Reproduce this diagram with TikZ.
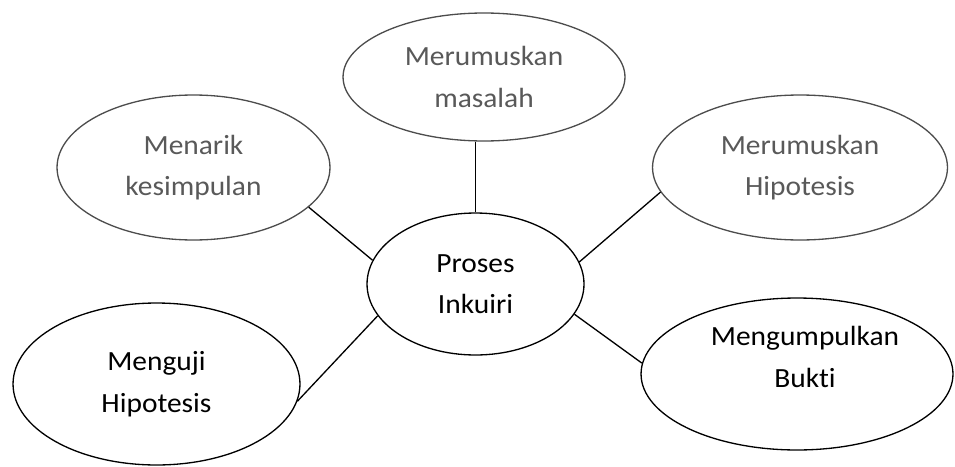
\documentclass[tikz,border=0pt]{standalone}
\usepackage{fontspec}
\setmainfont{Carlito}[Ligatures=NoCommon, FakeStretch=1.06]
\usetikzlibrary{shapes.geometric}

\begin{document}
\begin{tikzpicture}[x=0.02cm, y=-0.02cm,
  bubble/.style={ellipse, draw, line width=0.75pt, inner sep=0pt, align=center,
    font=\fontsize{15.8}{23.6}\selectfont},
  faded/.style={draw=black!70, text=black!65},
  link/.style={line width=0.75pt}]
\useasboundingbox (0,0) rectangle (955,466);

% upper row
\node [bubble, faded, minimum width=5.64cm, minimum height=2.56cm] (masalah) at (484,77) {Merumuskan\\masalah};
\node [bubble, faded, minimum width=5.46cm, minimum height=2.9cm] (kesimpulan) at (193.5,167.5) {Menarik\\kesimpulan};
\node [bubble, faded, minimum width=5.9cm, minimum height=2.9cm] (hipotesis) at (800,167.5) {Merumuskan\\Hipotesis};

% centre
\node [bubble, minimum width=4.34cm, minimum height=2.84cm] (proses) at (475.5,284) {Proses\\Inkuiri};

% lower row
\node [bubble, minimum width=5.74cm, minimum height=3.24cm] (menguji) at (156.5,384) {Menguji\\Hipotesis};
\node [bubble, minimum width=6.24cm, minimum height=3.04cm] (bukti) at (797,374) {};
\node [align=center, font=\fontsize{15.8}{23.6}\selectfont] (buktitext) at (805,357) {Mengumpulkan\\Bukti};

%\draw (proses) -- (masalah);
\draw [link] (proses.north) -- (proses.north |- masalah.south);
\draw [link] (kesimpulan.-19.8) -- (proses.167.4);
\draw [link] (hipotesis.-170.6) -- (proses.12.4);
\draw [link] (menguji.-7.7) -- (proses.198);
\draw [link] (proses.-17.6) -- (bukti.176.3);

\end{tikzpicture}
\end{document}
